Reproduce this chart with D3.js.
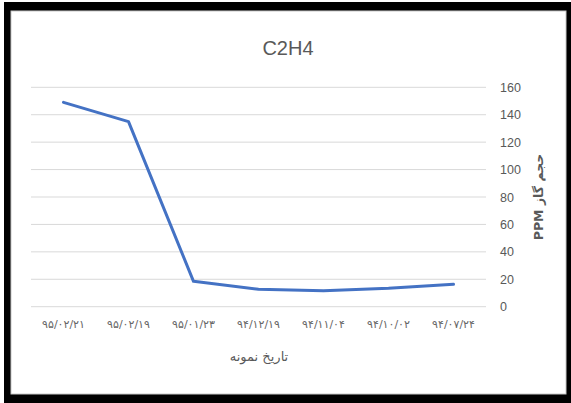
<!DOCTYPE html>
<html>
<head>
<meta charset="utf-8">
<script src="https://cdn.jsdelivr.net/npm/d3@7"></script>
<style>
  html, body { margin: 0; padding: 0; background: #fff; }
  svg { display: block; }
</style>
</head>
<body>
<svg id="chart" width="571" height="403"></svg>
<script>
// Sample dates (Persian calendar), newest first
const dates = ["۹۵/۰۲/۲۱", "۹۵/۰۲/۱۹", "۹۵/۰۱/۲۳", "۹۴/۱۲/۱۹", "۹۴/۱۱/۰۴", "۹۴/۱۰/۰۲", "۹۴/۰۷/۲۴"];
// Ethylene concentration (ppm)
const c2h4 = [149, 135, 18.5, 12.7, 11.7, 13.4, 16.3];
const yTicks = [0, 20, 40, 60, 80, 100, 120, 140, 160];

const chartTitle = "C2H4";
const xTitle = "تاریخ نمونه";
const yTitle = "حجم گاز PPM";

const svg = d3.select("#chart");

// Framed card
svg.append("rect").attr("x", 4).attr("y", 2).attr("width", 567).attr("height", 401).attr("fill", "#000");
svg.append("rect").attr("x", 11).attr("y", 11).attr("width", 555).attr("height", 383)
  .attr("fill", "#fff").attr("stroke", "#c8c8c8").attr("stroke-width", 1);

const plot = { left: 31, right: 486, top: 87.3, bottom: 306.7 };

const x = d3.scaleBand().domain(dates).range([plot.left, plot.right]);
const y = d3.scaleLinear().domain([0, 160]).range([plot.bottom, plot.top]);

// Horizontal gridlines
svg.append("g").selectAll("line").data(yTicks).join("line")
  .attr("x1", plot.left).attr("x2", plot.right)
  .attr("y1", d => y(d)).attr("y2", d => y(d))
  .attr("stroke", "#d9d9d9").attr("stroke-width", 1);

// Value axis on the right
const yAxis = d3.axisRight(y).tickValues(yTicks).tickSize(0).tickPadding(14);
const gy = svg.append("g").attr("transform", `translate(${plot.right},0)`).call(yAxis);
gy.select(".domain").remove();
gy.selectAll("text")
  .attr("fill", "#595959")
  .style("font-family", "'Liberation Sans', Arial, sans-serif")
  .style("font-size", "12.5px");

// Category axis
const xAxis = d3.axisBottom(x).tickSize(0).tickPadding(14);
const gx = svg.append("g").attr("transform", `translate(0,${plot.bottom})`).call(xAxis);
gx.select(".domain").remove();
gx.selectAll("text")
  .attr("fill", "#666")
  .style("font-family", "'DejaVu Sans', sans-serif")
  .style("font-size", "11px")
  .style("letter-spacing", "1px");

// Line series
const line = d3.line()
  .x((d, i) => x(dates[i]) + x.bandwidth() / 2)
  .y(d => y(d));

svg.append("path").datum(c2h4)
  .attr("d", line)
  .attr("fill", "none")
  .attr("stroke", "#4472c4")
  .attr("stroke-width", 3)
  .attr("stroke-linejoin", "round")
  .attr("stroke-linecap", "round");

// Titles
svg.append("text")
  .attr("x", 288).attr("y", 55)
  .attr("text-anchor", "middle")
  .attr("fill", "#595959")
  .style("font-family", "'Liberation Sans', Arial, sans-serif")
  .style("font-size", "20px")
  .text(chartTitle);

svg.append("text")
  .attr("x", 259).attr("y", 361)
  .attr("text-anchor", "middle")
  .attr("fill", "#595959")
  .style("font-family", "'DejaVu Sans', sans-serif")
  .style("font-size", "13px")
  .text(xTitle);

svg.append("text")
  .attr("transform", `translate(543,${(plot.top + plot.bottom) / 2}) rotate(-90)`)
  .attr("text-anchor", "middle")
  .attr("direction", "rtl")
  .attr("fill", "#595959")
  .style("font-family", "'DejaVu Sans', sans-serif")
  .style("font-size", "12.5px")
  .style("font-weight", "bold")
  .text(yTitle);
</script>
</body>
</html>
